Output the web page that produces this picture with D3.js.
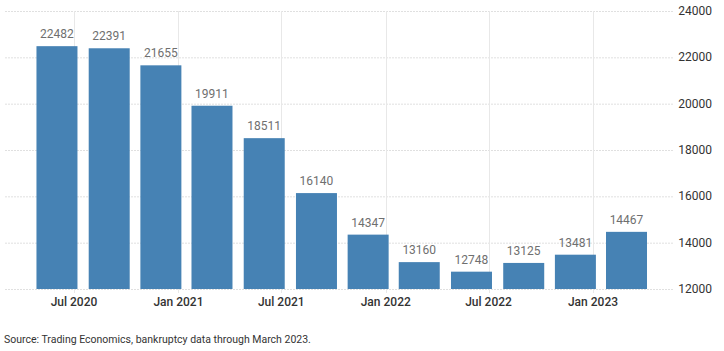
<!DOCTYPE html>
<html>
<head>
<meta charset="utf-8">
<script src="https://cdn.jsdelivr.net/npm/d3@7"></script>
<style>
  body { margin: 0; background: #fff; }
  svg { display: block; }
</style>
</head>
<body>
<div id="chart"></div>
<script>
// quarterly bankruptcy filings (bars placed at the middle-ish month)
var dates = ["2020-06-01", "2020-09-01", "2020-12-01", "2021-03-01", "2021-06-01", "2021-09-01",
             "2021-12-01", "2022-03-01", "2022-06-01", "2022-09-01", "2022-12-01", "2023-03-01"];
var values = [22482, 22391, 21655, 19911, 18511, 16140, 14347, 13160, 12748, 13125, 13481, 14467];
var yTicks = [12000, 14000, 16000, 18000, 20000, 22000, 24000];
var xTicks = ["2020-07-01", "2021-01-01", "2021-07-01", "2022-01-01", "2022-07-01", "2023-01-01"];
var sourceText = "Source: Trading Economics, bankruptcy data through March 2023.";

var W = 724, H = 351;
var parse = d3.timeParse("%Y-%m-%d");
var fmt = d3.timeFormat("%b %Y");

var svg = d3.select("#chart").append("svg")
	.attr("width", W)
	.attr("height", H);

var x = d3.scaleTime()
	.domain([parse("2020-07-01"), parse("2023-01-01")])
	.range([74, 593]);
var y = d3.scaleLinear()
	.domain([12000, 24000])
	.range([289, 11]);

var barW = 41;

// grid
svg.append("g").selectAll("line.h")
	.data(yTicks).enter().append("line")
	.attr("x1", 5).attr("x2", 673)
	.attr("y1", function(d) { return y(d) + 0.5; })
	.attr("y2", function(d) { return y(d) + 0.5; })
	.attr("stroke", "#e0e0e0")
	.attr("stroke-dasharray", "2,1");

svg.append("g").selectAll("line.v")
	.data(xTicks).enter().append("line")
	.attr("x1", function(d) { return Math.round(x(parse(d))) + 0.5; })
	.attr("x2", function(d) { return Math.round(x(parse(d))) + 0.5; })
	.attr("y1", y(24000)).attr("y2", y(12000) + 4)
	.attr("stroke", "#e8e8e8");

// bars
svg.append("g").selectAll("rect")
	.data(values).enter().append("rect")
	.attr("x", function(d, i) { return x(parse(dates[i])) - barW / 2; })
	.attr("width", barW)
	.attr("y", function(d) { return y(d); })
	.attr("height", function(d) { return y(12000) - y(d); })
	.attr("fill", "#4682b4");

// value labels
svg.append("g").selectAll("text")
	.data(values).enter().append("text")
	.attr("x", function(d, i) { return x(parse(dates[i])); })
	.attr("y", function(d) { return y(d) - 8; })
	.attr("text-anchor", "middle")
	.attr("font-family", "Roboto, sans-serif")
	.attr("font-size", "12px")
	.attr("fill", "#6f6f6f")
	.text(function(d) { return d; });

// x axis labels
svg.append("g").selectAll("text")
	.data(xTicks).enter().append("text")
	.attr("x", function(d) { return x(parse(d)); })
	.attr("y", 306)
	.attr("text-anchor", "middle")
	.attr("font-family", "Roboto, sans-serif")
	.attr("font-size", "12px")
	.attr("font-weight", 500)
	.attr("fill", "#333")
	.text(function(d) { return fmt(parse(d)); });

// y axis labels
svg.append("g").selectAll("text")
	.data(yTicks).enter().append("text")
	.attr("x", 712)
	.attr("y", function(d) { return y(d) + 4; })
	.attr("text-anchor", "end")
	.attr("font-family", "Roboto, sans-serif")
	.attr("font-size", "12px")
	.attr("fill", "#333")
	.text(function(d) { return d; });

svg.append("text")
	.attr("x", 4)
	.attr("y", 343)
	.attr("font-family", "Roboto, sans-serif")
	.attr("font-size", "10.5px")
	.attr("fill", "#333")
	.text(sourceText);
</script>
</body>
</html>
